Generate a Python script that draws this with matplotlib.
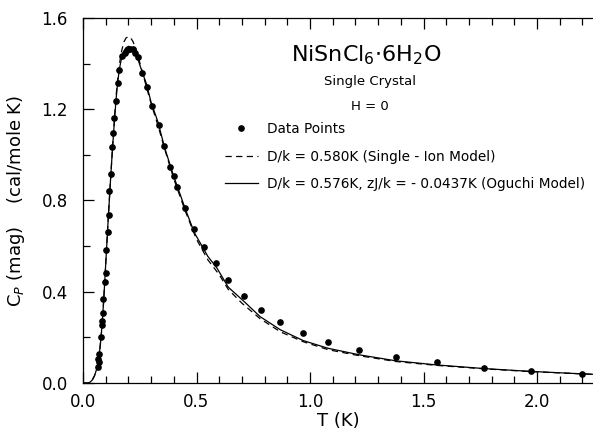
import matplotlib
matplotlib.use("Agg")
import matplotlib.pyplot as plt
from matplotlib.ticker import MultipleLocator
from matplotlib.lines import Line2D

T_data = [0.065, 0.069, 0.068, 0.070, 0.080, 0.082, 0.084, 0.090, 0.089, 0.098,
          0.100, 0.102, 0.108, 0.114, 0.116, 0.122, 0.129, 0.134, 0.138, 0.144,
          0.152, 0.160, 0.170, 0.185, 0.196, 0.207, 0.220, 0.231, 0.241, 0.259,
          0.284, 0.305, 0.336, 0.356, 0.383, 0.401, 0.416, 0.451, 0.490, 0.532,
          0.586, 0.640, 0.708, 0.783, 0.866, 0.971, 1.078, 1.216, 1.380, 1.561,
          1.768, 1.972, 2.197]
C_data = [0.072, 0.092, 0.107, 0.127, 0.202, 0.255, 0.270, 0.309, 0.368, 0.443,
          0.484, 0.585, 0.661, 0.736, 0.841, 0.917, 1.033, 1.095, 1.160, 1.235,
          1.313, 1.371, 1.432, 1.448, 1.459, 1.466, 1.462, 1.448, 1.431, 1.361,
          1.297, 1.213, 1.130, 1.037, 0.945, 0.906, 0.857, 0.767, 0.677, 0.596,
          0.526, 0.451, 0.382, 0.322, 0.267, 0.217, 0.179, 0.145, 0.116, 0.091,
          0.065, 0.051, 0.040]

# Oguchi model curve (solid)
T_og = [0.0, 0.02, 0.03, 0.04, 0.05, 0.06, 0.065, 0.07, 0.075, 0.08, 0.085, 0.09,
        0.095, 0.10, 0.105, 0.11, 0.115, 0.12, 0.125, 0.13, 0.135, 0.14, 0.145,
        0.15, 0.155, 0.16, 0.17, 0.18, 0.19, 0.20, 0.21, 0.22, 0.23, 0.24, 0.26,
        0.28, 0.30, 0.33, 0.36, 0.40, 0.45, 0.49, 0.55, 0.59, 0.64, 0.71, 0.78,
        0.87, 0.97, 1.08, 1.22, 1.38, 1.56, 1.77, 1.97, 2.20, 2.25]
C_og = [0.0, 0.0, 0.003, 0.012, 0.030, 0.060, 0.080, 0.115, 0.155, 0.205, 0.270,
        0.345, 0.430, 0.520, 0.610, 0.700, 0.785, 0.870, 0.950, 1.030, 1.100,
        1.170, 1.235, 1.290, 1.335, 1.375, 1.425, 1.455, 1.470, 1.476, 1.472,
        1.462, 1.447, 1.425, 1.365, 1.310, 1.230, 1.145, 1.030, 0.905, 0.765,
        0.660, 0.555, 0.504, 0.420, 0.357, 0.291, 0.233, 0.186, 0.152, 0.123,
        0.097, 0.079, 0.063, 0.051, 0.040, 0.038]

# single-ion model curve (dashed)
T_si = [0.0, 0.02, 0.03, 0.04, 0.05, 0.06, 0.065, 0.07, 0.075, 0.08, 0.085, 0.09,
        0.095, 0.10, 0.105, 0.11, 0.115, 0.12, 0.125, 0.13, 0.135, 0.14, 0.145,
        0.15, 0.155, 0.16, 0.17, 0.18, 0.19, 0.20, 0.21, 0.22, 0.23, 0.24, 0.25,
        0.26, 0.28, 0.30, 0.33, 0.36, 0.40, 0.45, 0.50, 0.55, 0.60, 0.64, 0.70,
        0.78, 0.87, 0.97, 1.08, 1.22, 1.38, 1.56, 1.77, 1.97, 2.20, 2.25]
C_si = [0.0, 0.0, 0.003, 0.012, 0.030, 0.060, 0.080, 0.115, 0.155, 0.205, 0.270,
        0.345, 0.430, 0.520, 0.610, 0.700, 0.785, 0.870, 0.950, 1.030, 1.105,
        1.180, 1.250, 1.305, 1.350, 1.395, 1.455, 1.495, 1.513, 1.518, 1.513,
        1.497, 1.472, 1.440, 1.405, 1.370, 1.295, 1.225, 1.130, 1.025, 0.895,
        0.755, 0.630, 0.540, 0.475, 0.410, 0.350, 0.282, 0.224, 0.181, 0.146,
        0.119, 0.094, 0.077, 0.062, 0.050, 0.040, 0.038]

fig = plt.figure(figsize=(5.93, 4.33), dpi=100)
ax = fig.add_axes([83/593, 1-383/433, 1-83/593, 365/433])

ax.plot(T_si, C_si, color='black', lw=0.9, ls=(0, (5, 3.5)))
ax.plot(T_og, C_og, color='black', lw=0.9)
ax.plot(T_data, C_data, 'o', color='black', ms=3.8, mec='black')

ax.set_xlim(0, 510/227)
ax.set_ylim(0, 1.6)
ax.xaxis.set_major_locator(MultipleLocator(0.5))
ax.xaxis.set_minor_locator(MultipleLocator(0.1))
ax.yaxis.set_major_locator(MultipleLocator(0.4))
ax.yaxis.set_minor_locator(MultipleLocator(0.2))
ax.xaxis.set_major_formatter(plt.FuncFormatter(lambda v, p: f"{v:.1f}"))
ax.yaxis.set_major_formatter(plt.FuncFormatter(lambda v, p: f"{v:.1f}"))
ax.tick_params(which='both', direction='in', top=True, right=False, width=0.9,
               labelsize=12)
ax.tick_params(which='major', length=8)
ax.tick_params(which='minor', length=5)
ax.tick_params(axis='x', which='major', pad=7)
ax.tick_params(axis='y', which='major', pad=11)
ax.spines['right'].set_visible(False)
for s in ['left', 'bottom', 'top']:
    ax.spines[s].set_linewidth(0.9)

ax.set_xlabel("T (K)", fontsize=13, labelpad=1)
ax.set_ylabel("C$_P$ (mag)    (cal/mole K)", fontsize=13, labelpad=10)

fig.text(366/593, 1-55/433, "NiSnCl$_6$$\\cdot$6H$_2$O", fontsize=16,
         ha='center', va='center')
fig.text(370/593, 1-81/433, "Single Crystal", fontsize=9.5, ha='center', va='center')
fig.text(370/593, 1-106/433, "H = 0", fontsize=9.5, ha='center', va='center')

handles = [Line2D([], [], ls='none', marker='o', color='black', ms=3.8),
           Line2D([], [], color='black', lw=0.9, ls=(0, (5, 3.5))),
           Line2D([], [], color='black', lw=0.9)]
labels = ["Data Points",
          "D/k = 0.580K (Single - Ion Model)",
          "D/k = 0.576K, zJ/k = - 0.0437K (Oguchi Model)"]
ax.legend(handles, labels, loc='upper left', bbox_to_anchor=(225/593, 1-122/433),
          bbox_transform=fig.transFigure, frameon=False, fontsize=9.8,
          handlelength=2.4, handletextpad=0.65, labelspacing=1.0,
          borderpad=0, borderaxespad=0)

fig.savefig("out.png", dpi=100)
